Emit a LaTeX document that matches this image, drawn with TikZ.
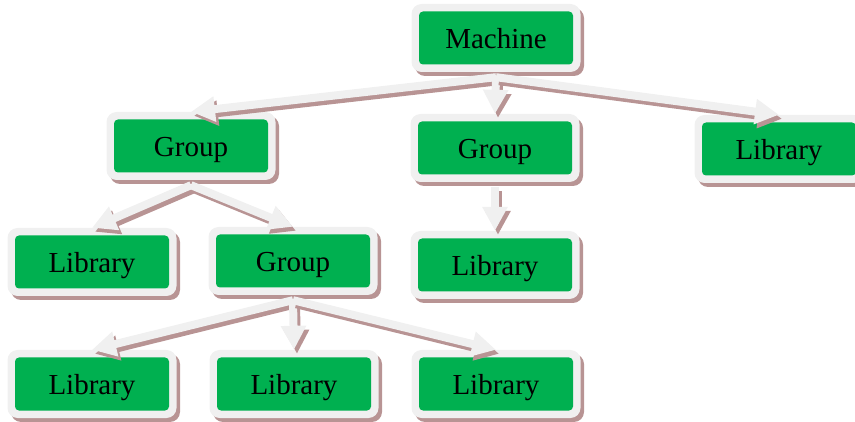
\documentclass[tikz,border=0pt]{standalone}
\usepackage{fontspec}
\setmainfont{Liberation Serif}
\usetikzlibrary{arrows.meta,shadows}
\definecolor{boxgreen}{RGB}{0,176,80}
\definecolor{boxgray}{RGB}{240,240,240}
\definecolor{shade}{RGB}{184,148,148}
\tikzset{
  box/.style={rectangle, rounded corners=10pt, fill=boxgray, minimum width=169pt, minimum height=68pt,
    inner sep=0pt, text height=22pt, text depth=0pt, font=\fontsize{29}{32}\selectfont,
    drop shadow={shadow xshift=3.5pt, shadow yshift=-4pt, fill=shade, opacity=1},
    path picture={\fill[boxgreen, rounded corners=4pt]
      ([shift={(7.5pt,7.5pt)}]path picture bounding box.south west) rectangle
      ([shift={(-7.5pt,-7.5pt)}]path picture bounding box.north east);}},
  conn/.style={draw=boxgray, line width=8pt, -{Triangle[length=24pt,width=24pt]}},
  connshadow/.style={draw=shade, line width=8pt, -{Triangle[length=24pt,width=24pt]},
    transform canvas={shift={(3pt,-4pt)}}},
}
\newcommand\linkto[2]{%
  \draw[connshadow] ([yshift=-5pt]#1.south) -- (#2.north);
  \draw[conn] ([yshift=-5pt]#1.south) -- (#2.north);}
\begin{document}
\begin{tikzpicture}[x=1pt,y=-1pt]
\useasboundingbox (0,0) rectangle (855,422);
\node[box] (m)  at (496,38)  {Machine};
\node[box] (g1) at (191,146) {Group};
\node[box] (g2) at (495,148) {Group};
\node[box] (lr) at (779,149) {Library};
\node[box] (l1) at (92,262)  {Library};
\node[box] (g3) at (293,261) {Group};
\node[box] (l2) at (495,265) {Library};
\node[box] (l3) at (92,384)  {Library};
\node[box] (l4) at (294,384) {Library};
\node[box] (l5) at (496,384) {Library};
\linkto{m}{g1}
\linkto{m}{g2}
\linkto{m}{lr}
\linkto{g1}{l1}
\linkto{g1}{g3}
\linkto{g2}{l2}
\linkto{g3}{l3}
\linkto{g3}{l4}
\linkto{g3}{l5}
\end{tikzpicture}
\end{document}
